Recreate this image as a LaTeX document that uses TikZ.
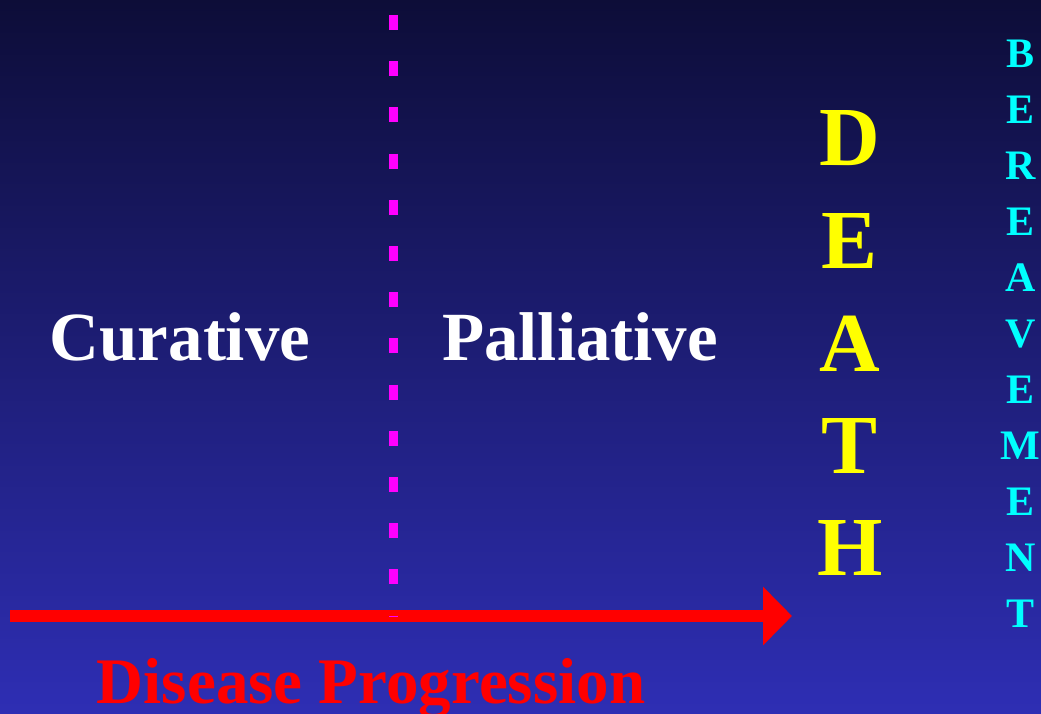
\documentclass[tikz,border=0pt]{standalone}
\usepackage{fontspec}
\setmainfont{Liberation Serif}
\usetikzlibrary{arrows.meta}
\definecolor{bgtop}{RGB}{13,13,56}
\definecolor{bgbot}{RGB}{46,46,180}
\definecolor{dyellow}{RGB}{255,255,0}
\definecolor{bcyan}{RGB}{0,255,255}
\definecolor{dmag}{RGB}{255,0,255}
\definecolor{ared}{RGB}{255,0,0}
\tikzset{
  phase/.style={text=white, font=\bfseries\fontsize{69}{69}\selectfont, inner sep=0pt, anchor=base},
  deathletter/.style={text=dyellow, font=\bfseries\fontsize{84}{84}\selectfont, inner sep=0pt, anchor=base},
  berletter/.style={text=bcyan, font=\bfseries\fontsize{42}{42}\selectfont, inner sep=0pt, anchor=base},
  progress/.style={text=ared, font=\bfseries\fontsize{65}{65}\selectfont, inner sep=0pt, anchor=base},
  timeline/.style={draw=ared, line width=12pt, -{Triangle[length=29pt,width=57pt]}},
  divider/.style={draw=dmag, line width=9pt, dash pattern=on 15pt off 31.2pt}
}
\begin{document}
\begin{tikzpicture}[x=1pt,y=-1pt]
\useasboundingbox (0,0) rectangle (1041,714);
\shade[top color=bgtop, bottom color=bgbot] (0,0) rectangle (1041,714);
% texts
\node[phase] (cur) at (180,360) {Curative};
\node[phase] (pal) at (580,360) {Palliative};
\node[deathletter] (d1) at (850,166) {D};
\node[deathletter] (d2) at (850,268.5) {E};
\node[deathletter] (d3) at (850,371) {A};
\node[deathletter] (d4) at (850,473) {T};
\node[deathletter] (d5) at (850,575) {H};
\foreach \L [count=\i from 0] in {B,E,R,E,A,V,E,M,E,N,T}{
  \node[berletter] (b\i) at (1020.5,{68+55.9*\i}) {\L};
}
\node[progress] (dp) at (371,703) {Disease Progression};
% arrow
\coordinate (as) at (10,616);
\coordinate (ae) at (792,616);
\draw[timeline] (as) -- (ae);
% divider
\coordinate (vt) at (393.5,15);
\coordinate (vb) at (393.5,617);
\draw[divider] (vt) -- (vb);
\end{tikzpicture}
\end{document}
